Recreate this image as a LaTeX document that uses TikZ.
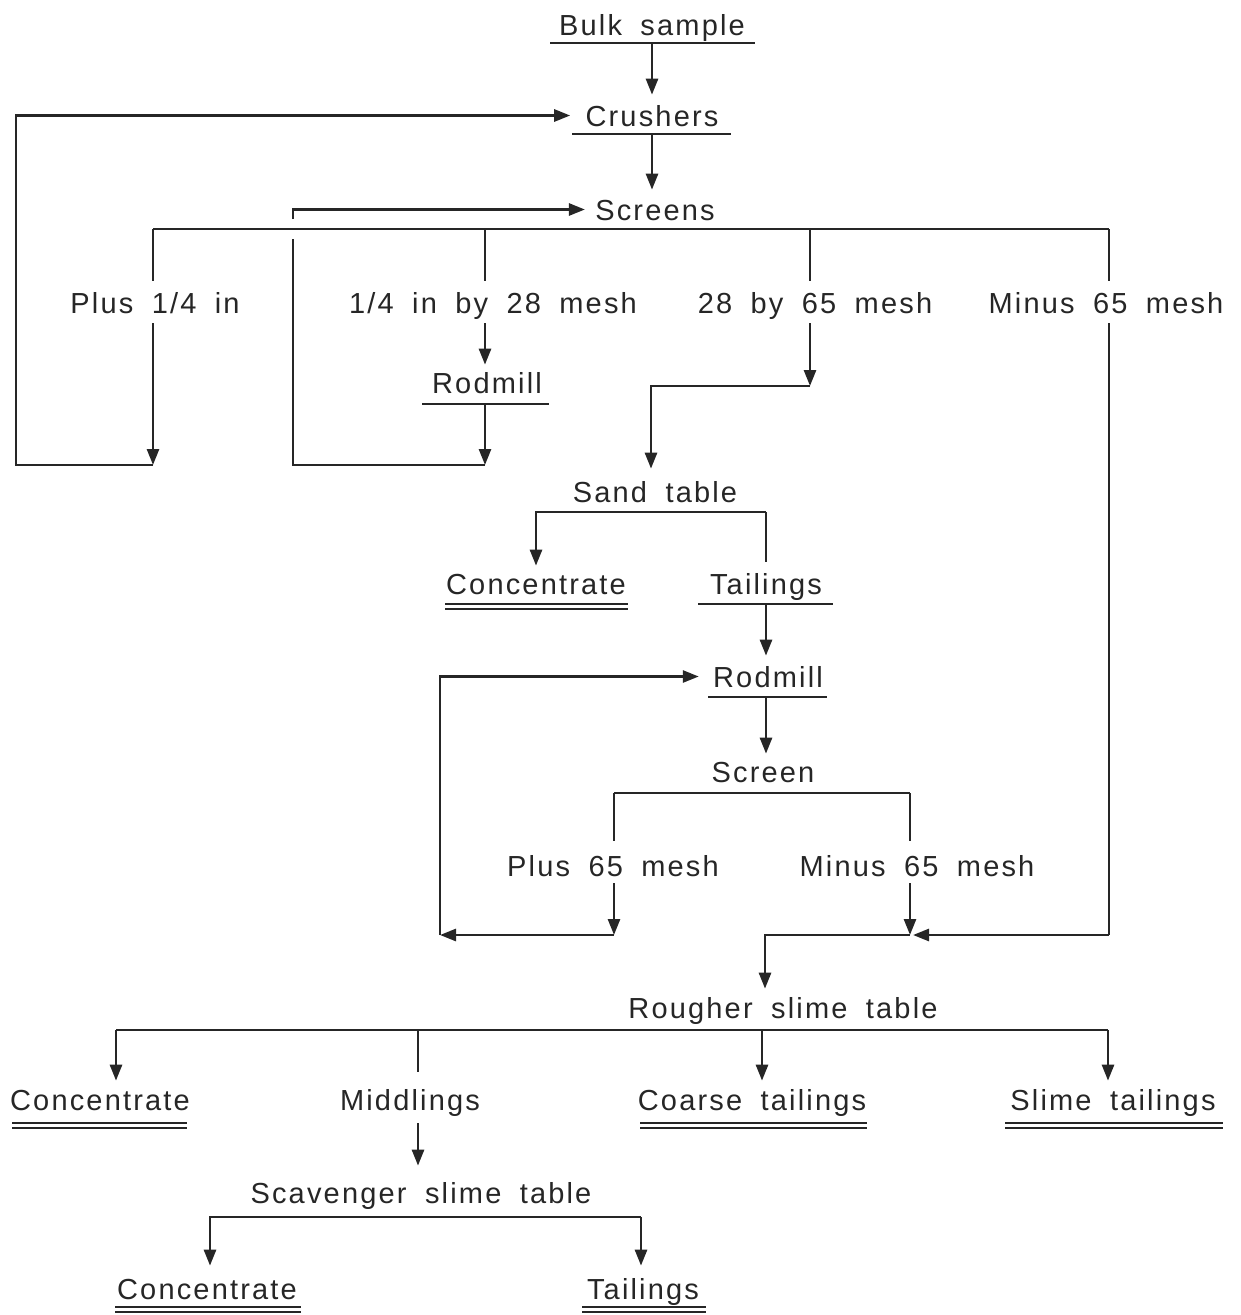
\documentclass[tikz,border=0pt]{standalone}
\usepackage{fontspec}
\setmainfont{Liberation Sans}[LetterSpace=7.5, WordSpace=1.8]
\usetikzlibrary{arrows.meta,calc}
\newcommand\lblfont{\fontsize{29pt}{34pt}\selectfont}
\begin{document}
\begin{tikzpicture}[x=1pt,y=-1pt,line width=2.7pt,color=black!85,
  arr/.style={-{Triangle[length=16pt,width=12pt]}},
  lbl/.style={inner sep=0pt,text height=21pt,text depth=0pt,anchor=base,font=\lblfont},
  ul/.style={line width=2.5pt},
  dul/.style={line width=1.7pt}]
\useasboundingbox (0,0) rectangle (1241,1315);

% ---------- text nodes ----------
\node[lbl] (bulk) at (652,35) {Bulk sample};
\node[lbl] (crush) at (652,126) {Crushers};
\node[lbl] (screens) at (655,220) {Screens};
\node[lbl] (plusq) at (155,313) {Plus 1/4 in};
\node[lbl] (qby28) at (493,313) {1/4 in by 28 mesh};
\node[lbl] (by65) at (815,313) {28 by 65 mesh};
\node[lbl] (minus65) at (1106,313) {Minus 65 mesh};
\node[lbl] (rod1) at (487,393) {Rodmill};
\node[lbl] (sand) at (655,502) {Sand table};
\node[lbl] (conc1) at (536,594) {Concentrate};
\node[lbl] (tail1) at (766,594) {Tailings};
\node[lbl] (rod2) at (768,687) {Rodmill};
\node[lbl] (screen) at (763,782) {Screen};
\node[lbl] (plus65) at (613,876) {Plus 65 mesh};
\node[lbl] (minus65b) at (917,876) {Minus 65 mesh};
\node[lbl] (rough) at (783,1018) {Rougher slime table};
\node[lbl] (conc2) at (100,1110) {Concentrate};
\node[lbl] (midd) at (410,1110) {Middlings};
\node[lbl] (coarse) at (752,1110) {Coarse tailings};
\node[lbl] (slime) at (1113,1110) {Slime tailings};
\node[lbl] (scav) at (421,1203) {Scavenger slime table};
\node[lbl] (conc3) at (207,1299) {Concentrate};
\node[lbl] (tail3) at (643,1299) {Tailings};

% ---------- underlines ----------
\draw[ul] (550,43) -- (755,43);
\draw[ul] (572,134) -- (731,134);
\draw[ul] (422,404) -- (549,404);
\draw[ul] (698,604) -- (833,604);
\draw[ul] (708,697) -- (827,697);
\foreach \a/\b/\y in {445/628/604, 12/187/1123, 640/867/1123, 1005/1223/1123, 115/301/1307, 582/706/1307}{
  \draw[dul] (\a,\y) -- (\b,\y);
  \draw[dul] (\a,\y+5) -- (\b,\y+5);
}

% ---------- junction coordinates ----------
\coordinate (ubulk) at (652,43);
\coordinate (ucrush) at (652,134);
\coordinate (sL) at (153,229);
\coordinate (sA) at (485,229);
\coordinate (sB) at (810,229);
\coordinate (sR) at (1109,229);
\coordinate (pqEnd) at (153,465);
\coordinate (urod1) at (485,404);
\coordinate (r1End) at (485,465);
\coordinate (b65) at (810,386);
\coordinate (mEnd) at (1109,935);
\coordinate (jm) at (910,935);
\coordinate (sdL) at (536,512);
\coordinate (sdR) at (766,512);
\coordinate (ut1) at (766,604);
\coordinate (ur2) at (766,697);
\coordinate (scL) at (614,793);
\coordinate (scR) at (910,793);
\coordinate (p65End) at (614,935);
\coordinate (loopBL) at (440,935);
\coordinate (rL) at (116,1030);
\coordinate (rM) at (418,1030);
\coordinate (rC) at (762,1030);
\coordinate (rR) at (1108,1030);
\coordinate (vL) at (210,1217);
\coordinate (vR) at (641,1217);

% ---------- connectors ----------
\draw[arr] (ubulk) -- ($(crush.north)+(0,-9)$);
\draw[arr] (ucrush) -- ($(ucrush |- screens.north)+(0,-8)$);

\draw (sL) -- (sR);
% plus 1/4 in -> back to crushers
\draw (sL) -- ($(sL |- plusq.north)+(0,-10)$);
\draw[arr] ($(sL |- plusq.south)+(0,9)$) -- (pqEnd);
\draw[arr] (pqEnd) -- (16,465) -- (16,0 |- crush.west) -- ($(crush.west)+(-14,0)$);
% 1/4 in by 28 mesh -> rodmill -> back to screens
\draw (sA) -- ($(sA |- qby28.north)+(0,-10)$);
\draw[arr] ($(sA |- qby28.south)+(0,9)$) -- ($(sA |- rod1.north)+(0,-6)$);
\draw[arr] (urod1) -- (r1End);
\draw (r1End) -- (293,465) -- (293,239);
\draw[arr] (293,219) -- (293,0 |- screens.west) -- ($(screens.west)+(-9,0)$);
% 28 by 65 mesh -> sand table
\draw (sB) -- ($(sB |- by65.north)+(0,-10)$);
\draw[arr] ($(sB |- by65.south)+(0,9)$) -- (b65);
\draw[arr] (b65) -- (651,386) -- ($(651,0 |- sand.north)+(0,-11)$);
% minus 65 mesh -> long line down
\draw (sR) -- ($(sR |- minus65.north)+(0,-10)$);
\draw ($(sR |- minus65.south)+(0,9)$) -- (mEnd);
\draw[arr] (mEnd) -- ($(jm)+(3,0)$);

% sand table
\draw[arr] (sdR) -- (sdL) -- ($(sdL |- conc1.north)+(0,-6)$);
\draw (sdR) -- ($(sdR |- tail1.north)+(0,-10)$);
\draw[arr] (ut1) -- ($(ut1 |- rod2.north)+(0,-9)$);
\draw[arr] (ur2) -- ($(ur2 |- screen.north)+(0,-6)$);

% screen
\draw (scL) -- (scR);
\draw (scL) -- ($(scL |- plus65.north)+(0,-13)$);
\draw (scR) -- ($(scR |- minus65b.north)+(0,-13)$);
\draw[arr] ($(scL |- plus65.south)+(0,6)$) -- (p65End);
\draw[arr] (p65End) -- (loopBL);
\draw[arr] (loopBL) -- (440,0 |- rod2.west) -- ($(rod2.west)+(-13,0)$);
\draw[arr] ($(scR |- minus65b.south)+(0,6)$) -- (jm);
\draw[arr] (jm) -- (765,935) -- ($(765,0 |- rough.north)+(0,-7)$);

% rougher slime table
\draw (rL) -- (rR);
\draw[arr] (rL) -- ($(rL |- conc2.north)+(0,-7)$);
\draw (rM) -- ($(rM |- midd.north)+(0,-16)$);
\draw[arr] (rC) -- ($(rC |- coarse.north)+(0,-7)$);
\draw[arr] (rR) -- ($(rR |- slime.north)+(0,-7)$);
\draw[arr] ($(rM |- midd.south)+(0,12)$) -- ($(rM |- scav.north)+(0,-15)$);

% scavenger slime table
\draw[arr] (vR) -- (vL) -- ($(vL |- conc3.north)+(0,-11)$);
\draw[arr] (vR) -- ($(vR |- tail3.north)+(0,-11)$);
\end{tikzpicture}
\end{document}
